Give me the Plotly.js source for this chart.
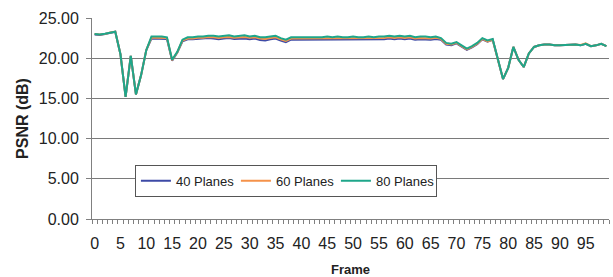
<!DOCTYPE html>
<html>
<head>
<meta charset="utf-8">
<script src="https://cdn.plot.ly/plotly-3.0.1.min.js"></script>
<style>html,body{margin:0;padding:0;background:#fff;}#chart{width:613px;height:277px;}</style>
</head>
<body>
<div id="chart"></div>
<script>
// Frame numbers 0..99
const frames = Array.from({length: 100}, (_, i) => i);

const planes80 = [
  23.0, 22.95, 23.05, 23.2, 23.3, 20.5, 15.2, 20.3, 15.5, 17.9,
  21.0, 22.7, 22.7, 22.7, 22.6, 19.8, 20.8, 22.3, 22.6, 22.6,
  22.7, 22.7, 22.8, 22.8, 22.7, 22.8, 22.85, 22.7, 22.8, 22.85,
  22.7, 22.8, 22.6, 22.6, 22.7, 22.8, 22.5, 22.3, 22.6, 22.6,
  22.6, 22.6, 22.65, 22.6, 22.6, 22.7, 22.6, 22.7, 22.6, 22.6,
  22.7, 22.6, 22.6, 22.7, 22.6, 22.7, 22.7, 22.8, 22.7, 22.8,
  22.7, 22.8, 22.6, 22.7, 22.7, 22.6, 22.7, 22.5, 21.9, 21.8,
  22.0, 21.6, 21.2, 21.5, 21.9, 22.5, 22.2, 22.4, 20.0, 17.4,
  18.8, 21.4, 19.8, 18.9, 20.6, 21.4, 21.6, 21.7, 21.7, 21.6,
  21.6, 21.65, 21.7, 21.7, 21.6, 21.8, 21.5, 21.6, 21.8, 21.5
];

const planes60 = [
  23.0, 22.95, 23.0, 23.2, 23.3, 20.5, 15.2, 20.3, 15.5, 17.9,
  21.0, 22.55, 22.55, 22.55, 22.5, 19.75, 20.75, 22.2, 22.45, 22.45,
  22.55, 22.55, 22.65, 22.6, 22.5, 22.6, 22.65, 22.55, 22.6, 22.65,
  22.55, 22.6, 22.45, 22.4, 22.5, 22.6, 22.35, 22.15, 22.45, 22.45,
  22.45, 22.45, 22.5, 22.45, 22.45, 22.5, 22.45, 22.5, 22.45, 22.45,
  22.5, 22.45, 22.45, 22.5, 22.45, 22.5, 22.5, 22.6, 22.5, 22.6,
  22.5, 22.6, 22.45, 22.5, 22.5, 22.45, 22.55, 22.4, 21.8, 21.7,
  21.9, 21.5, 21.1, 21.4, 21.8, 22.4, 22.1, 22.3, 20.0, 17.4,
  18.8, 21.4, 19.8, 18.9, 20.6, 21.4, 21.6, 21.7, 21.7, 21.6,
  21.6, 21.65, 21.7, 21.7, 21.65, 21.85, 21.5, 21.6, 21.8, 21.5
];

const planes40 = [
  22.95, 22.9, 23.0, 23.15, 23.3, 20.5, 15.2, 20.3, 15.5, 17.9,
  21.0, 22.45, 22.45, 22.45, 22.4, 19.7, 20.7, 22.1, 22.35, 22.35,
  22.4, 22.4, 22.5, 22.45, 22.35, 22.45, 22.5, 22.4, 22.45, 22.45,
  22.35, 22.45, 22.25, 22.2, 22.35, 22.45, 22.2, 22.0, 22.3, 22.3,
  22.3, 22.3, 22.35, 22.3, 22.3, 22.35, 22.3, 22.35, 22.3, 22.3,
  22.35, 22.3, 22.3, 22.35, 22.3, 22.35, 22.35, 22.45, 22.35, 22.45,
  22.35, 22.45, 22.3, 22.35, 22.35, 22.3, 22.4, 22.3, 21.7, 21.6,
  21.85, 21.45, 21.05, 21.35, 21.75, 22.35, 22.05, 22.3, 20.0, 17.4,
  18.8, 21.4, 19.8, 18.9, 20.6, 21.4, 21.6, 21.7, 21.7, 21.6,
  21.6, 21.65, 21.7, 21.7, 21.6, 21.8, 21.5, 21.6, 21.8, 21.5
];

const seriesNames = ["40 Planes", "60 Planes", "80 Planes"];
const seriesColors = ["#3d4aa6", "#f5924a", "#1ea68a"];
const seriesData = [planes40, planes60, planes80];

const xTickVals = [0,5,10,15,20,25,30,35,40,45,50,55,60,65,70,75,80,85,90,95];
const yTickVals = [0, 5, 10, 15, 20, 25];
const yTickText = ["0.00", "5.00", "10.00", "15.00", "20.00", "25.00"];

const traces = seriesData.map((ys, i) => ({
  x: frames, y: ys, type: 'scatter', mode: 'lines', name: seriesNames[i],
  line: {color: seriesColors[i], width: 2}
}));

const font = {family: '"Liberation Sans", Arial, sans-serif', color: '#222'};

const layout = {
  width: 613, height: 277,
  margin: {l: 92, r: 4, t: 18, b: 58},
  paper_bgcolor: '#fff', plot_bgcolor: '#fff',
  font: Object.assign({size: 16}, font),
  showlegend: true,
  legend: {
    orientation: 'h', x: 0.083, y: 0.27, xanchor: 'left', yanchor: 'top',
    bgcolor: '#fff', bordercolor: '#555', borderwidth: 1,
    font: Object.assign({size: 13}, font),
    entrywidth: 55, entrywidthmode: 'pixels', tracegroupgap: 0,
    itemwidth: 30
  },
  xaxis: {
    range: [-0.5, 99.5], tickmode: 'array', tickvals: xTickVals,
    ticks: '', showgrid: false, zeroline: false, fixedrange: true,
    showline: true, linecolor: '#808080', linewidth: 1,
    tickfont: Object.assign({size: 16}, font),
    ticklabelstandoff: 10,
    minor: {tickmode: 'linear', tick0: -0.5, dtick: 1, ticks: 'outside', ticklen: 4, tickcolor: '#808080', showgrid: false},
    title: {text: '<b>Frame</b>', font: Object.assign({size: 13}, font), standoff: 14}
  },
  yaxis: {
    range: [0, 25], tickmode: 'array', tickvals: yTickVals, ticktext: yTickText,
    ticks: 'outside', ticklen: 5, tickcolor: '#808080',
    showgrid: true, gridcolor: '#7a7a7a', gridwidth: 1, zeroline: false,
    showline: true, linecolor: '#808080', linewidth: 1,
    tickfont: Object.assign({size: 16}, font),
    ticklabelstandoff: 4,
    title: {text: '<b>PSNR (dB)</b>', font: Object.assign({size: 16}, font), standoff: 6}
  }
};

Plotly.newPlot('chart', traces, layout, {staticPlot: true, displayModeBar: false});
</script>
</body>
</html>
